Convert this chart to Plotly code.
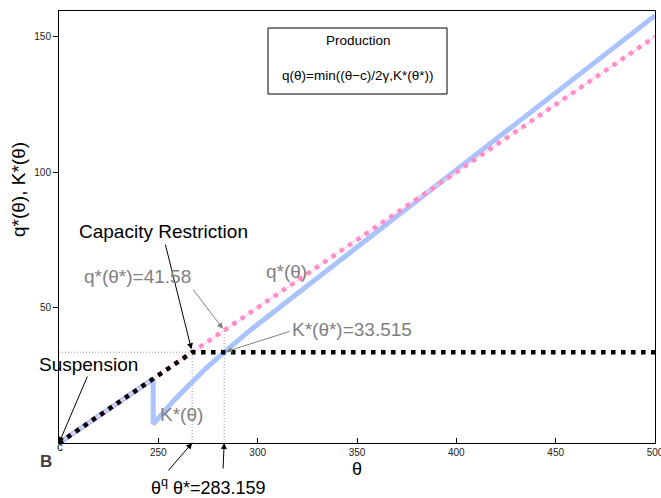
import plotly.graph_objects as go

# ---------------- data ----------------
c = 200
gamma = 1
theta_star = 283.159
theta_q = 267.03
K_star = 33.515
q_star_val = 41.58

# q*(theta) = (theta - c) / (2 gamma)
theta_q_line = [200, 500]
q_line = [0, 150]

# production q(theta) = min((theta-c)/2gamma, K*(theta*))
theta_prod = [200, 267.03, 500]
q_prod = [0, 33.515, 33.515]

# K*(theta)
theta_K = [200, 247.4, 247.4, 252, 258, 265, 274, 283.159, 296, 350, 400, 450, 500]
K_vals = [0, 23.7, 7.0, 11.0, 15.8, 21.0, 27.6, 33.515, 41.5, 72.3, 100.8, 129.3, 157.8]

x_ticks = [250, 300, 350, 400, 450, 500]
y_ticks = [50, 100, 150]

# ---------------- layout geometry ----------------
W, H = 661, 498
L, R, T, B = 59, 655, 11, 443
X0, X1 = 200, 500
Y0, Y1 = 0, 159.5
FONT = "Liberation Sans, Arial, sans-serif"
GRAY = "rgb(128,128,128)"
BLUE = "#abc3fc"
PINK = "#ff8cc6"


def px2x(px):
    return X0 + (px - L) / (R - L) * (X1 - X0)


def py2y(py):
    return Y0 + (B - py) / (B - T) * (Y1 - Y0)


def pxp(px):
    return (px - L) / (R - L)


def pyp(py):
    return (B - py) / (B - T)


fig = go.Figure()

# gray dotted reference lines
ref = dict(color="rgb(150,150,150)", width=1, dash="1px,2px")
fig.add_trace(go.Scatter(x=[200, theta_q], y=[K_star, K_star], mode="lines", line=ref))
fig.add_trace(go.Scatter(x=[theta_q, theta_q], y=[0, K_star], mode="lines", line=ref))
fig.add_trace(go.Scatter(x=[theta_star, theta_star], y=[0, q_star_val], mode="lines", line=ref))

# K*(theta)
fig.add_trace(go.Scatter(x=theta_K, y=K_vals, mode="lines",
                         line=dict(color=BLUE, width=5)))
# q*(theta)
fig.add_trace(go.Scatter(x=theta_q_line, y=q_line, mode="lines",
                         line=dict(color="#ffd3ea", width=1.2)))
fig.add_trace(go.Scatter(x=theta_q_line, y=q_line, mode="lines",
                         line=dict(color=PINK, width=4.5, dash="4.5px,5.5px")))
# production
fig.add_trace(go.Scatter(x=theta_prod, y=q_prod, mode="lines",
                         line=dict(color="black", width=4.5, dash="4.5px,5.5px")))

annotations = []


def text_px(txt, px, py, size, color="black", xanchor="center", bold=False, angle=0):
    annotations.append(dict(
        text=("<b>%s</b>" % txt) if bold else txt,
        x=pxp(px), y=pyp(py), xref="paper", yref="paper",
        xanchor=xanchor, yanchor="middle", showarrow=False, textangle=angle,
        font=dict(family=FONT, size=size, color=color)))


def arrow(tip_x, tip_y, tail_px, tail_py, color="black", standoff=0):
    annotations.append(dict(
        text="", x=tip_x, y=tip_y, xref="x", yref="y",
        ax=px2x(tail_px), ay=py2y(tail_py), axref="x", ayref="y",
        showarrow=True, arrowhead=2, arrowsize=1.2, arrowwidth=1,
        arrowcolor=color, standoff=standoff))


# texts
text_px("Capacity Restriction", 163, 231, 19)
arrow(theta_q, K_star, 165, 243, standoff=3)

text_px("q*(θ*)=41.58", 137, 276, 19, GRAY)
arrow(theta_star, q_star_val, 192, 288, GRAY, standoff=2)

text_px("q*(θ)", 286, 271, 19, GRAY)

text_px("K*(θ*)=33.515", 352, 329, 19, GRAY)
arrow(theta_star, K_star, 291, 331, GRAY, standoff=2)

text_px("Suspension", 88, 364, 19)
arrow(c, 0, 88, 375, standoff=0)

text_px("K*(θ)", 181, 414, 19, GRAY)

text_px("c", 59.5, 447, 12, "#222")
text_px("B", 46, 461, 17, "#404040", bold=True)
text_px("θ", 357, 469, 18)

text_px("θ<sup>q</sup> θ*=283.159", 149, 486, 18, xanchor="left")
arrow(theta_q, 0, 167, 472)
arrow(theta_star, 0, 223, 470)

# y axis title
text_px("q*(θ), K*(θ)", 18, 190, 19, angle=-90)

# legend-like box
text_px("Production", 358, 40, 13.5)
text_px("q(θ)=min((θ−c)/2γ,K*(θ*))", 358, 76, 13.5)

shapes = [dict(type="rect", xref="paper", yref="paper",
               x0=pxp(268), x1=pxp(447), y0=pyp(94), y1=pyp(28),
               line=dict(color="black", width=1), fillcolor="white", layer="above")]

fig.update_layout(
    width=W, height=H,
    margin=dict(l=L, r=W - R, t=T, b=H - B, autoexpand=False),
    paper_bgcolor="white", plot_bgcolor="white",
    showlegend=False,
    font=dict(family=FONT, size=10, color="#222"),
    annotations=annotations,
    shapes=shapes,
    xaxis=dict(range=[X0, X1], tickvals=x_ticks, ticks="inside", ticklen=5,
               tickcolor="black", showline=True, linecolor="black", linewidth=1,
               mirror=True, showgrid=False, zeroline=False, automargin=False,
               ticklabeloverflow="allow",
               tickfont=dict(size=10, color="#222")),
    yaxis=dict(range=[Y0, Y1], tickvals=y_ticks, ticks="outside", ticklen=5,
               tickcolor="black", showline=True, linecolor="black", linewidth=1,
               mirror=True, showgrid=False, zeroline=False, automargin=False,
               tickfont=dict(size=10, color="#222")),
)

fig.write_html("out.html")
